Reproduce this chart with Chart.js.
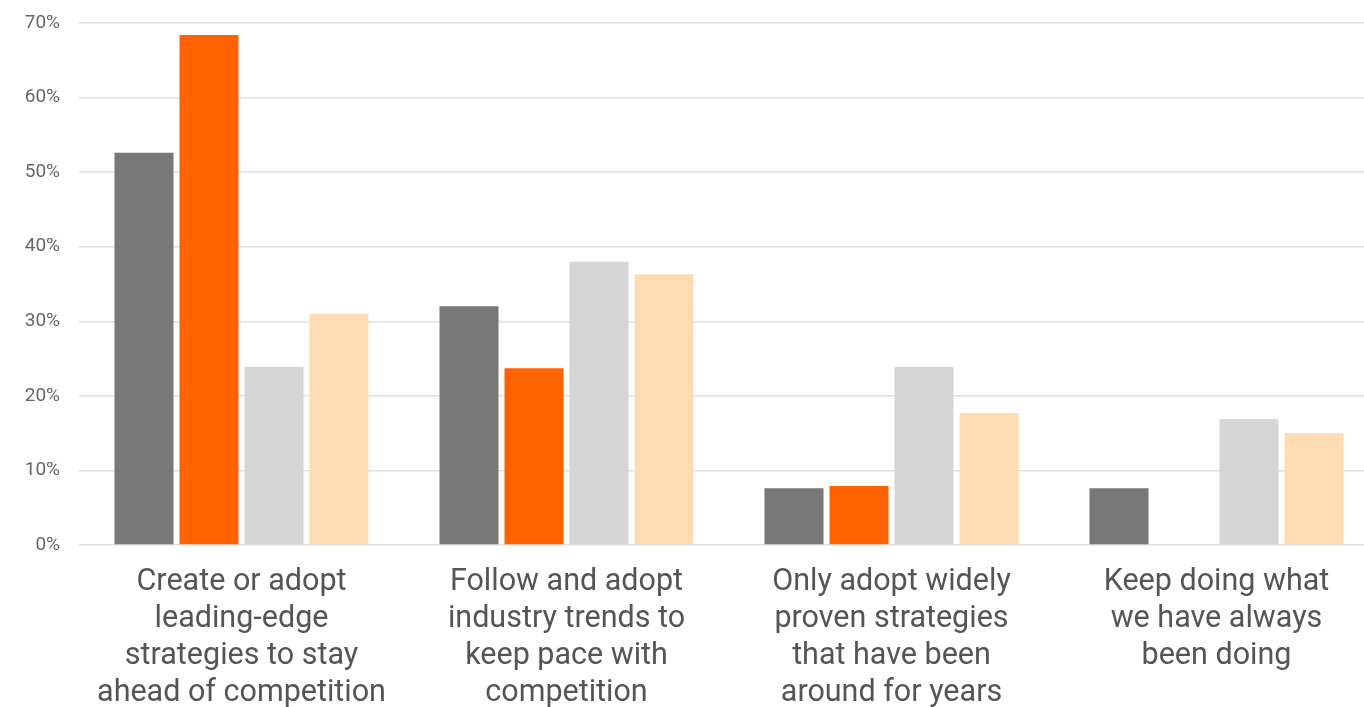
<!DOCTYPE html>
<html>
<head>
<meta charset="utf-8">
<script src="https://cdn.jsdelivr.net/npm/chart.js@4/dist/chart.umd.min.js"></script>
<style>
  html, body { margin: 0; padding: 0; background: #fff; overflow: hidden; }
  #wrap { width: 1364px; height: 707px; position: relative; overflow: hidden; }
</style>
</head>
<body>
<!-- the plot runs a little past the right edge, as in the picture -->
<div id="wrap"><canvas id="chart" width="1379" height="707"></canvas></div>
<script>
// categories (each label split over lines as in the picture)
var categories = [
  ['Create or adopt', 'leading-edge', 'strategies to stay', 'ahead of competition'],
  ['Follow and adopt', 'industry trends to', 'keep pace with', 'competition'],
  ['Only adopt widely', 'proven strategies', 'that have been', 'around for years'],
  ['Keep doing what', 'we have always', 'been doing']
];

// four unnamed series, values in percent
var seriesDark   = [52.6, 32.0, 7.6, 7.6];
var seriesOrange = [68.4, 23.7, 7.9, null];
var seriesLight  = [23.9, 38.0, 23.9, 16.9];
var seriesPeach  = [31.0, 36.3, 17.7, 15.0];

var tickValues = [0, 10, 20, 30, 40, 50, 60, 70];

var colors = ['#787878', '#ff6200', '#d6d6d6', '#fedbb2'];

var ds = function(data, color){
  return { data: data, backgroundColor: color, borderWidth: 0,
           categoryPercentage: 0.8, barPercentage: 0.908 };
};

new Chart(document.getElementById('chart'), {
  type: 'bar',
  data: {
    labels: categories,
    datasets: [ds(seriesDark, colors[0]), ds(seriesOrange, colors[1]), ds(seriesLight, colors[2]), ds(seriesPeach, colors[3])]
  },
  options: {
    responsive: false,
    animation: false,
    devicePixelRatio: 1,
    layout: { padding: { top: 23, right: 0, left: 0, bottom: 0 } },
    plugins: { legend: { display: false }, tooltip: { enabled: false } },
    scales: {
      x: {
        grid: { display: false, drawTicks: false },
        border: { display: false },
        ticks: {
          color: '#555', maxRotation: 0, autoSkip: false, padding: 19,
          font: { family: 'Roboto', size: 30.5, lineHeight: 1.213 }
        },
        afterFit: function(scale){ scale.height = 162; }
      },
      y: {
        min: 0, max: 70,
        afterBuildTicks: function(scale){ scale.ticks = tickValues.map(function(v){ return { value: v }; }); },
        grid: { color: '#e0e0e0', lineWidth: 1.5, drawTicks: false },
        border: { display: false },
        ticks: {
          color: '#666', padding: 19,
          font: { family: 'Roboto', size: 19 },
          callback: function(v){ return v + '%'; }
        },
        afterFit: function(scale){ scale.width = 79; scale.paddingTop = 0; scale.paddingBottom = 0; }
      }
    }
  }
});
</script>
</body>
</html>
